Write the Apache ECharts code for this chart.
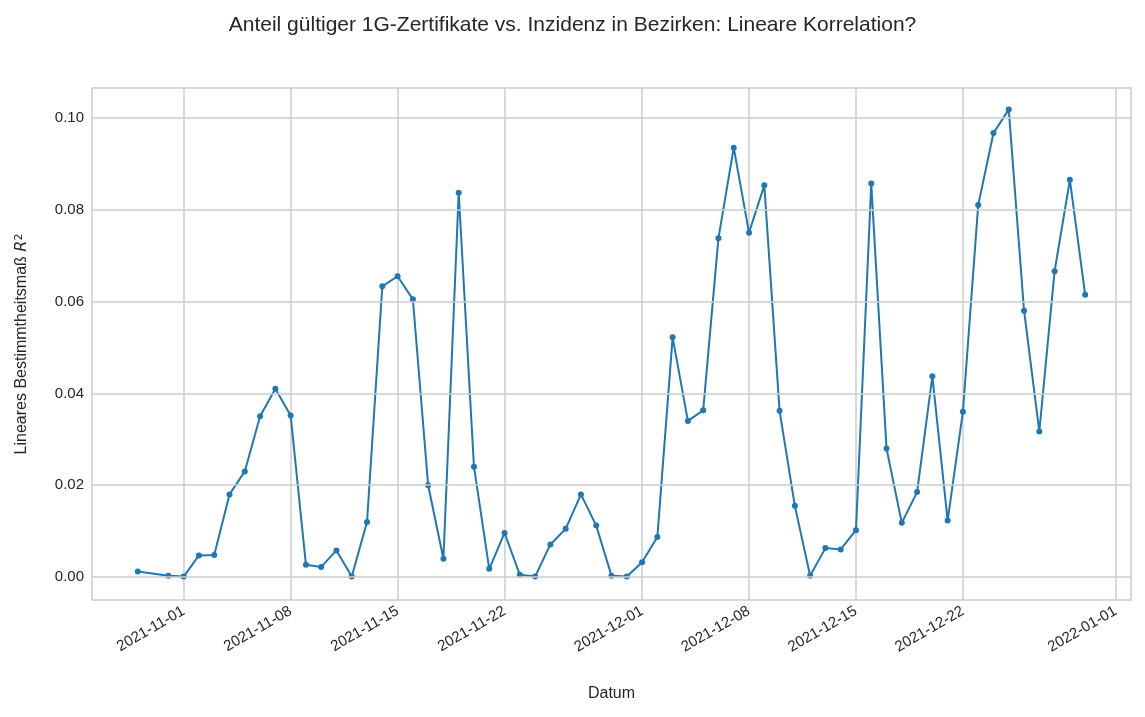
<!DOCTYPE html>
<html><head><meta charset="utf-8">
<script src="https://cdn.jsdelivr.net/npm/echarts@6/dist/echarts.min.js"></script>
<style>html,body{margin:0;background:#fff}#main{width:1145px;height:717px}</style>
</head><body><div id="main"></div>
<script>
// measured dates and R^2 values
var dates = ['2021-10-29','2021-10-31','2021-11-01','2021-11-02','2021-11-03','2021-11-04','2021-11-05','2021-11-06','2021-11-07','2021-11-08',
  '2021-11-09','2021-11-10','2021-11-11','2021-11-12','2021-11-13','2021-11-14','2021-11-15','2021-11-16','2021-11-17','2021-11-18',
  '2021-11-19','2021-11-20','2021-11-21','2021-11-22','2021-11-23','2021-11-24','2021-11-25','2021-11-26','2021-11-27','2021-11-28',
  '2021-11-29','2021-11-30','2021-12-01','2021-12-02','2021-12-03','2021-12-04','2021-12-05','2021-12-06','2021-12-07','2021-12-08',
  '2021-12-09','2021-12-10','2021-12-11','2021-12-12','2021-12-13','2021-12-14','2021-12-15','2021-12-16','2021-12-17','2021-12-18',
  '2021-12-19','2021-12-20','2021-12-21','2021-12-22','2021-12-23','2021-12-24','2021-12-25','2021-12-26','2021-12-27','2021-12-28',
  '2021-12-29','2021-12-30'];
var r2 = [0.0012,0.0003,0.0001,0.0047,0.0048,0.018,0.023,0.035,0.041,0.0352,
  0.0027,0.0022,0.0058,0.0001,0.012,0.0633,0.0655,0.0605,0.020,0.004,
  0.0837,0.024,0.0018,0.0096,0.0005,0.0001,0.0071,0.0105,0.018,0.0112,
  0.0003,0.0001,0.0032,0.0087,0.0522,0.034,0.0363,0.0738,0.0935,0.075,
  0.0853,0.0362,0.0155,0.0003,0.0063,0.006,0.0102,0.0857,0.028,0.0118,
  0.0185,0.0437,0.0123,0.036,0.081,0.0967,0.1018,0.058,0.0317,0.0666,
  0.0865,0.0615];
var tickDates = ['2021-11-01','2021-11-08','2021-11-15','2021-11-22','2021-12-01','2021-12-08','2021-12-15','2021-12-22','2022-01-01'];
var yTicks = [0, 0.02, 0.04, 0.06, 0.08, 0.10];

// full day range for the category axis
var days = [];
var d = new Date(Date.UTC(2021, 9, 26));
var end = new Date(Date.UTC(2022, 0, 2));
while (d <= end) { days.push(d.toISOString().slice(0, 10)); d.setUTCDate(d.getUTCDate() + 1); }
var lookup = {};
dates.forEach(function(k, i) { lookup[k] = r2[i]; });
var seriesData = days.map(function(k) { return lookup[k] === undefined ? null : lookup[k]; });
function isTick(i) { return tickDates.indexOf(days[i]) >= 0; }

var chart = echarts.init(document.getElementById('main'));
chart.setOption({
  animation: false,
  textStyle: { fontFamily: 'DejaVu Sans' },
  title: { text: 'Anteil gültiger 1G-Zertifikate vs. Inzidenz in Bezirken: Lineare Korrelation?', left: 'center', top: 10,
    textStyle: { fontSize: 21, fontWeight: 'normal', color: '#262626', fontFamily: 'Arial, Liberation Sans' } },
  grid: { left: 92, right: 14, top: 88, bottom: 117, show: true, borderColor: '#cccccc', borderWidth: 1.5 },
  xAxis: {
    type: 'category', data: days, boundaryGap: false,
    name: 'Datum', nameLocation: 'middle', nameGap: 86,
    nameTextStyle: { fontSize: 16, color: '#262626', fontFamily: 'Arial, Liberation Sans' },
    axisLine: { show: false }, axisTick: { show: false },
    axisLabel: { interval: function(i) { return isTick(i); }, rotate: 30, fontSize: 15, color: '#262626', margin: 10, fontFamily: 'Arial, Liberation Sans' },
    splitLine: { show: true, interval: function(i) { return isTick(i); }, lineStyle: { color: '#cccccc', width: 1.5 } }
  },
  yAxis: {
    type: 'value', min: -0.005, max: 0.1065, interval: 0.005,
    name: '{n|Lineares Bestimmtheitsmaß }{i|R}{s|2}', nameLocation: 'middle', nameGap: 62,
    nameTextStyle: { rich: { n: { fontSize: 16, color: '#262626', fontFamily: 'Arial, Liberation Sans' }, i: { fontSize: 16, fontStyle: 'italic', color: '#262626' }, s: { fontSize: 11, color: '#262626', verticalAlign: 'top' } } },
    axisLine: { show: false }, axisTick: { show: false }, splitLine: { show: false },
    axisLabel: { fontSize: 15, color: '#262626', fontFamily: 'Arial, Liberation Sans', formatter: function(v) {
      for (var k = 0; k < yTicks.length; k++) if (Math.abs(v - yTicks[k]) < 1e-9) return v.toFixed(2);
      return '';
    } }
  },
  series: [{
    type: 'line', data: seriesData, connectNulls: true,
    symbol: 'circle', symbolSize: 6, showAllSymbol: true,
    lineStyle: { color: '#1f77b4', width: 2 }, itemStyle: { color: '#1f77b4' },
    markLine: { silent: true, symbol: 'none', label: { show: false },
      lineStyle: { color: '#cccccc', width: 1.5, type: 'solid' },
      data: yTicks.map(function(v) { return { yAxis: v }; }) },
    z: 3
  }]
});
</script></body></html>
